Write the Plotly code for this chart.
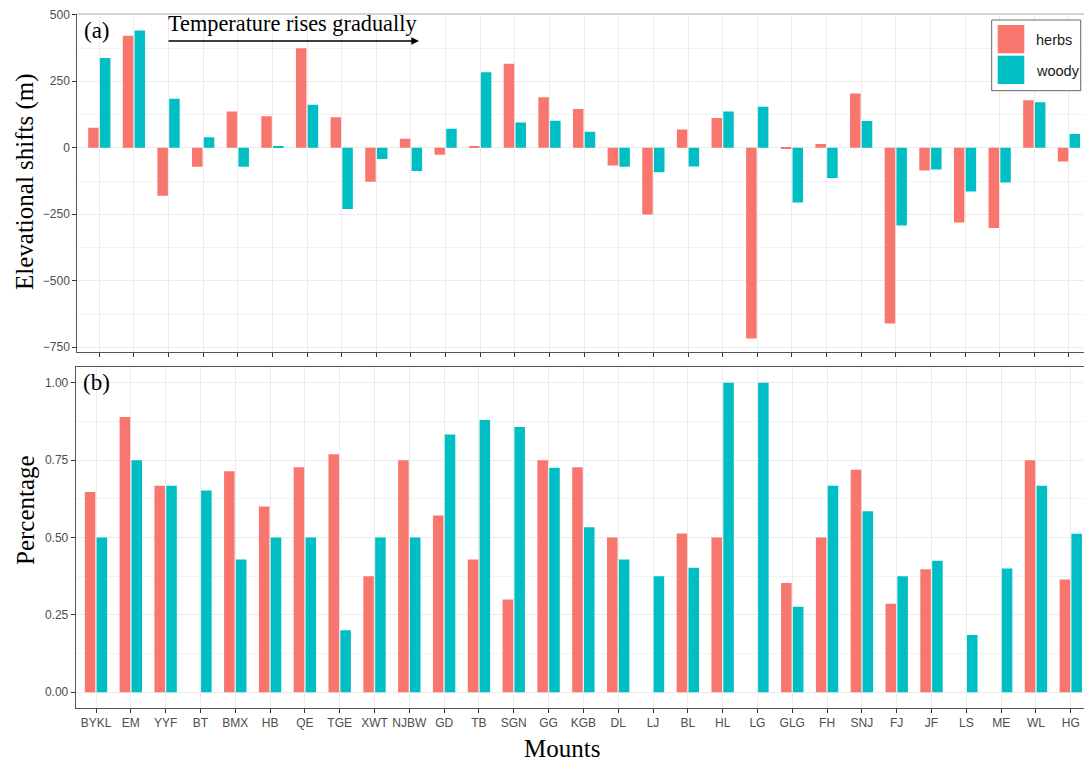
import plotly.graph_objects as go

mounts = ["BYKL", "EM", "YYF", "BT", "BMX", "HB", "QE", "TGE", "XWT", "NJBW",
          "GD", "TB", "SGN", "GG", "KGB", "DL", "LJ", "BL", "HL", "LG",
          "GLG", "FH", "SNJ", "FJ", "JF", "LS", "ME", "WL", "HG"]

herbs_shift = [75, 421, -180, -71, 136, 119, 374, 115, -128, 34,
               -26, 5, 316, 190, 146, -67, -251, 69, 112, -717,
               -2, 14, 204, -661, -85, -281, -302, 179, -52]
woody_shift = [338, 441, 184, 40, -71, 6, 162, -230, -42, -87,
               72, 284, 95, 102, 60, -71, -92, -70, 136, 154,
               -206, -114, 101, -292, -82, -164, -131, 171, 52]

herbs_pct = [0.647, 0.889, 0.667, 0, 0.714, 0.6, 0.727, 0.769, 0.375, 0.75,
             0.571, 0.429, 0.3, 0.75, 0.727, 0.5, 0, 0.513, 0.5, 0,
             0.353, 0.5, 0.719, 0.286, 0.397, 0, 0, 0.75, 0.364]
woody_pct = [0.5, 0.75, 0.667, 0.652, 0.429, 0.5, 0.5, 0.2, 0.5, 0.5,
             0.833, 0.88, 0.857, 0.725, 0.533, 0.429, 0.375, 0.402, 1.0, 1.0,
             0.276, 0.667, 0.585, 0.375, 0.425, 0.185, 0.4, 0.667, 0.512]

shift_ticks = [-750, -500, -250, 0, 250, 500]
pct_ticks = [0, 0.25, 0.5, 0.75, 1.0]
pct_ticktext = ["0.00", "0.25", "0.50", "0.75", "1.00"]

HERB = "#F8766D"
WOOD = "#00BFC4"
W, H = 1084, 762


def fx(p):
    return p / W


def fy(p):
    return 1 - p / H


SERIF = "Liberation Serif"
SANS = "Liberation Sans"

fig = go.Figure()
fig.add_trace(go.Bar(x=mounts, y=herbs_shift, name="herbs", marker=dict(color=HERB, line=dict(width=0)),
                     xaxis="x", yaxis="y", showlegend=False))
fig.add_trace(go.Bar(x=mounts, y=woody_shift, name="woody", marker=dict(color=WOOD, line=dict(width=0)),
                     xaxis="x", yaxis="y", showlegend=False))
fig.add_trace(go.Bar(x=mounts, y=herbs_pct, name="herbs", marker=dict(color=HERB, line=dict(width=0)),
                     xaxis="x2", yaxis="y2", showlegend=False))
fig.add_trace(go.Bar(x=mounts, y=woody_pct, name="woody", marker=dict(color=WOOD, line=dict(width=0)),
                     xaxis="x2", yaxis="y2", showlegend=False))

grid = "#EBEBEB"
minor_grid = "#F3F3F3"
axis_line = "#555555"
tickfont = dict(family=SANS, size=12, color="#4D4D4D")

fig.update_layout(
    width=W, height=H,
    margin=dict(l=0, r=0, t=0, b=0),
    paper_bgcolor="white", plot_bgcolor="white",
    barmode="group", bargap=0.32, bargroupgap=0.11,
    showlegend=False,
    xaxis=dict(domain=[fx(77.3), 1], range=[-0.635, 28.435], type="category",
               anchor="y", showgrid=True, gridcolor=grid, gridwidth=1,
               ticks="outside", ticklen=4, tickcolor="#333333", showticklabels=False,
               showline=True, linecolor=axis_line, linewidth=1, zeroline=False,
               automargin=False),
    yaxis=dict(domain=[fy(352.3), fy(14)], range=[-769, 503], anchor="x",
               tickvals=shift_ticks, showgrid=True, gridcolor=grid, gridwidth=1,
               minor=dict(tick0=125, dtick=250, showgrid=True, gridcolor=minor_grid, gridwidth=0.6),
               ticks="outside", ticklen=4, tickcolor="#333333", tickfont=tickfont,
               showline=True, linecolor=axis_line, linewidth=1, zeroline=False,
               automargin=False),
    xaxis2=dict(domain=[fx(75.7), 1], range=[-0.583, 28.38], type="category",
                anchor="y2", showgrid=True, gridcolor=grid, gridwidth=1,
                ticks="outside", ticklen=4, tickcolor="#333333", tickfont=tickfont,
                showline=True, linecolor=axis_line, linewidth=1, mirror=True, zeroline=False,
                automargin=False),
    yaxis2=dict(domain=[fy(707.7), fy(367.3)], range=[-0.05, 1.05], anchor="x2",
                tickvals=pct_ticks, ticktext=pct_ticktext, showgrid=True, gridcolor=grid, gridwidth=1,
                minor=dict(tick0=0.125, dtick=0.25, showgrid=True, gridcolor=minor_grid, gridwidth=0.6),
                ticks="outside", ticklen=4, tickcolor="#333333", tickfont=tickfont,
                showline=True, linecolor=axis_line, linewidth=1, mirror=True, zeroline=False,
                automargin=False),
)

shapes = [
    # top border of panel (a)
    dict(type="line", xref="paper", yref="paper", x0=fx(77.3), x1=1, y0=fy(14), y1=fy(14),
         line=dict(color="#AAAAAA", width=1)),
    # legend box
    dict(type="rect", xref="paper", yref="paper", x0=fx(991.7), x1=fx(1080.7), y0=fy(90.7), y1=fy(20),
         line=dict(color="#666666", width=1), fillcolor="white", layer="above"),
    dict(type="rect", xref="paper", yref="paper", x0=fx(997.7), x1=fx(1024.3), y0=fy(53.3), y1=fy(25),
         line=dict(width=0), fillcolor=HERB, layer="above"),
    dict(type="rect", xref="paper", yref="paper", x0=fx(997.7), x1=fx(1024.3), y0=fy(84), y1=fy(55.7),
         line=dict(width=0), fillcolor=WOOD, layer="above"),
]
fig.update_layout(shapes=shapes)

annotations = [
    dict(text="(a)", x=fx(82), y=fy(31), xref="paper", yref="paper", xanchor="left", yanchor="middle",
         showarrow=False, font=dict(family=SERIF, size=23, color="black")),
    dict(text="(b)", x=fx(81), y=fy(382), xref="paper", yref="paper", xanchor="left", yanchor="middle",
         showarrow=False, font=dict(family=SERIF, size=23, color="black")),
    dict(text="Temperature rises gradually", x=fx(166), y=fy(23.5), xref="paper", yref="paper",
         xanchor="left", yanchor="middle", showarrow=False,
         font=dict(family=SERIF, size=22.3, color="black")),
    dict(text="", x=fx(419), y=fy(41), xref="paper", yref="paper", showarrow=True,
         axref="pixel", ayref="pixel", ax=-252, ay=0, arrowhead=2, arrowsize=1.1, arrowwidth=1.4,
         arrowcolor="black", standoff=0, startstandoff=0),
    dict(text="Elevational shifts (m)", x=fx(25), y=fy(182), xref="paper", yref="paper",
         xanchor="center", yanchor="middle", textangle=-90, showarrow=False,
         font=dict(family=SERIF, size=25, color="black")),
    dict(text="Percentage", x=fx(25), y=fy(510), xref="paper", yref="paper",
         xanchor="center", yanchor="middle", textangle=-90, showarrow=False,
         font=dict(family=SERIF, size=25, color="black")),
    dict(text="Mounts", x=fx(562), y=fy(748), xref="paper", yref="paper",
         xanchor="center", yanchor="middle", showarrow=False,
         font=dict(family=SERIF, size=25, color="black")),
    dict(text="herbs", x=fx(1034), y=fy(40), xref="paper", yref="paper",
         xanchor="left", yanchor="middle", showarrow=False,
         font=dict(family=SANS, size=14.5, color="#1A1A1A")),
    dict(text="woody", x=fx(1034), y=fy(70.5), xref="paper", yref="paper",
         xanchor="left", yanchor="middle", showarrow=False,
         font=dict(family=SANS, size=14.5, color="#1A1A1A")),
]
fig.update_layout(annotations=annotations)

fig.write_html(
    "out.html",
    config={"displayModeBar": False},
    post_script="document.body.style.margin='0';document.body.style.padding='0';"
                "document.body.style.overflow='hidden';",
)
